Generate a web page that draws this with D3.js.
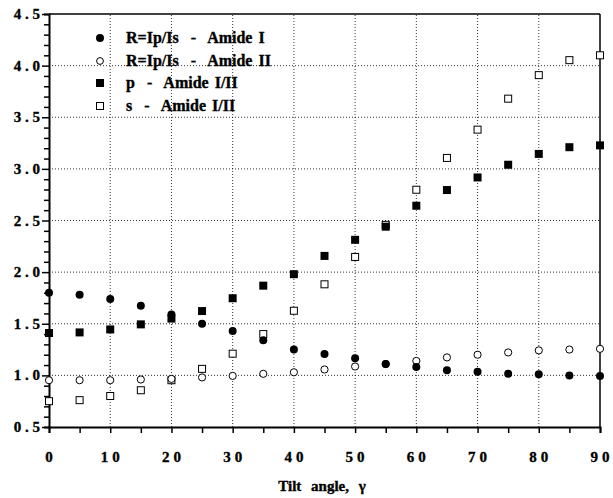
<!DOCTYPE html>
<html>
<head>
<meta charset="utf-8">
<script src="https://cdn.jsdelivr.net/npm/d3@7"></script>
<style>
  body { margin: 0; background: #fff; }
  text { font-family: "Liberation Serif", "Times New Roman", serif; font-weight: bold; fill: #000; stroke: #000; stroke-width: 0.35px; }
</style>
</head>
<body>
<div id="chart"></div>
<script>
// tilt angles
const angles = [0, 5, 10, 15, 20, 25, 30, 35, 40, 45, 50, 55, 60, 65, 70, 75, 80, 85, 90]
// R = Ip/Is, amide I
const rAmideI = [1.80, 1.78, 1.74, 1.675, 1.59, 1.50, 1.43, 1.34, 1.25, 1.206, 1.167, 1.11, 1.08, 1.05, 1.034, 1.015, 1.01, 1.0, 0.995]
// R = Ip/Is, amide II
const rAmideII = [0.953, 0.953, 0.953, 0.96, 0.966, 0.98, 0.995, 1.015, 1.03, 1.057, 1.086, 1.11, 1.14, 1.174, 1.2, 1.222, 1.242, 1.25, 1.257]
// p - amide I/II
const pRatio = [1.41, 1.416, 1.445, 1.494, 1.55, 1.623, 1.747, 1.869, 1.98, 2.157, 2.313, 2.44, 2.643, 2.795, 2.917, 3.04, 3.145, 3.21, 3.228]
// s - amide I/II
const sRatio = [0.75, 0.76, 0.80, 0.856, 0.953, 1.063, 1.21, 1.40, 1.626, 1.882, 2.147, 2.458, 2.798, 3.106, 3.38, 3.68, 3.908, 4.053, 4.10]

const xTicks = [0, 10, 20, 30, 40, 50, 60, 70, 80, 90]
const yTicks = [0.5, 1.0, 1.5, 2.0, 2.5, 3.0, 3.5, 4.0, 4.5]
const legendLabels = ['R=Ip/Is  -  Amide I', 'R=Ip/Is  -  Amide II', 'p  -  Amide I/II', 's  -  Amide I/II']

const width = 613, height = 498
const margin = {left: 49, right: 13, top: 14, bottom: 71}

const svg = d3.select('#chart').append('svg')
    .attr('width', width)
    .attr('height', height)

const x = d3.scaleLinear().domain([0, 90]).range([margin.left, width - margin.right])
const y = d3.scaleLinear().domain([0.5, 4.5]).range([height - margin.bottom, margin.top])

// dotted grid
const grid = svg.append('g')
grid.selectAll('.gx')
    .data(xTicks.filter(d => d > 0 && d < 90))
    .enter().append('line')
    .attr('x1', d => x(d)).attr('x2', d => x(d))
    .attr('y1', y(0.5)).attr('y2', y(4.5))
    .attr('stroke', '#000').attr('stroke-width', 0.8).attr('stroke-dasharray', '1,2')
grid.selectAll('.gy')
    .data(yTicks.filter(d => d > 0.5 && d < 4.5))
    .enter().append('line')
    .attr('y1', d => y(d)).attr('y2', d => y(d))
    .attr('x1', x(0)).attr('x2', x(90))
    .attr('stroke', '#000').attr('stroke-width', 0.8).attr('stroke-dasharray', '1,2')

// frame top / right
svg.append('line').attr('x1', x(0)).attr('x2', x(90)).attr('y1', y(4.5)).attr('y2', y(4.5))
    .attr('stroke', '#000').attr('stroke-width', 1.5)
svg.append('line').attr('x1', x(90)).attr('x2', x(90)).attr('y1', y(4.5)).attr('y2', y(0.5))
    .attr('stroke', '#000').attr('stroke-width', 1.5)

// x axis
const xAxis = svg.append('g')
    .attr('transform', `translate(0,${y(0.5)})`)
    .call(d3.axisBottom(x).tickValues(d3.range(0, 91, 5)).tickSize(6).tickFormat(''))
xAxis.select('.domain').attr('stroke-width', 2)
xAxis.selectAll('.tick line').attr('stroke-width', 1.5)
svg.append('g').selectAll('text')
    .data(xTicks)
    .enter().append('text')
    .attr('x', d => x(d) + 2)
    .attr('y', y(0.5) + 35)
    .attr('text-anchor', 'middle')
    .style('font-size', '15px')
    .style('letter-spacing', '4px')
    .text(d => d)

// y axis
const yAxis = svg.append('g')
    .attr('transform', `translate(${x(0)},0)`)
    .call(d3.axisLeft(y).tickValues(d3.range(5, 46, 1).map(d => d / 10)).tickSize(5).tickFormat(''))
yAxis.select('.domain').attr('stroke-width', 2)
yAxis.selectAll('.tick line').attr('stroke-width', 1.5)
    .attr('x2', d => Math.round(d * 10) % 5 === 0 ? -7 : -5)
svg.append('g').selectAll('text')
    .data(yTicks)
    .enter().append('text')
    .attr('x', x(0) - 9)
    .attr('y', d => y(d) + 5)
    .attr('text-anchor', 'end')
    .style('font-size', '15px')
    .text(d => d.toFixed(1).split('').join(' '))

// axis title
svg.append('text')
    .attr('x', 322)
    .attr('y', 491)
    .attr('text-anchor', 'middle')
    .style('font-size', '15px')
    .style('word-spacing', '6px')
    .text('Tilt angle, γ')

// markers
function drawCircles(vals, filled) {
    svg.append('g').selectAll('circle')
        .data(vals)
        .enter().append('circle')
        .attr('cx', (d, i) => x(angles[i]))
        .attr('cy', d => y(d))
        .attr('r', filled ? 4 : 3.6)
        .attr('fill', filled ? '#000' : '#fff')
        .attr('stroke', '#000')
        .attr('stroke-width', filled ? 0 : 1)
}
function drawSquares(vals, filled) {
    const s = filled ? 8 : 7
    svg.append('g').selectAll('rect')
        .data(vals)
        .enter().append('rect')
        .attr('x', (d, i) => x(angles[i]) - s / 2)
        .attr('y', d => y(d) - s / 2)
        .attr('width', s).attr('height', s)
        .attr('fill', filled ? '#000' : '#fff')
        .attr('stroke', '#000')
        .attr('stroke-width', filled ? 0 : 1)
}
drawSquares(sRatio, false)
drawSquares(pRatio, true)
drawCircles(rAmideII, false)
drawCircles(rAmideI, true)

// legend
const legendY = [38, 61, 83, 106]
const lg = svg.append('g')
lg.append('circle').attr('cx', 100).attr('cy', legendY[0]).attr('r', 4).attr('fill', '#000')
lg.append('circle').attr('cx', 100).attr('cy', legendY[1]).attr('r', 3.4).attr('fill', '#fff').attr('stroke', '#000')
lg.append('rect').attr('x', 96).attr('y', legendY[2] - 4).attr('width', 8).attr('height', 8).attr('fill', '#000')
lg.append('rect').attr('x', 96.5).attr('y', legendY[3] - 3.5).attr('width', 7).attr('height', 7).attr('fill', '#fff').attr('stroke', '#000')
lg.selectAll('text')
    .data(legendLabels)
    .enter().append('text')
    .attr('x', 126)
    .attr('y', (d, i) => legendY[i] + 5)
    .style('font-size', '16px')
    .style('word-spacing', '2px')
    .style('white-space', 'pre')
    .text(d => d)
</script>
</body>
</html>
